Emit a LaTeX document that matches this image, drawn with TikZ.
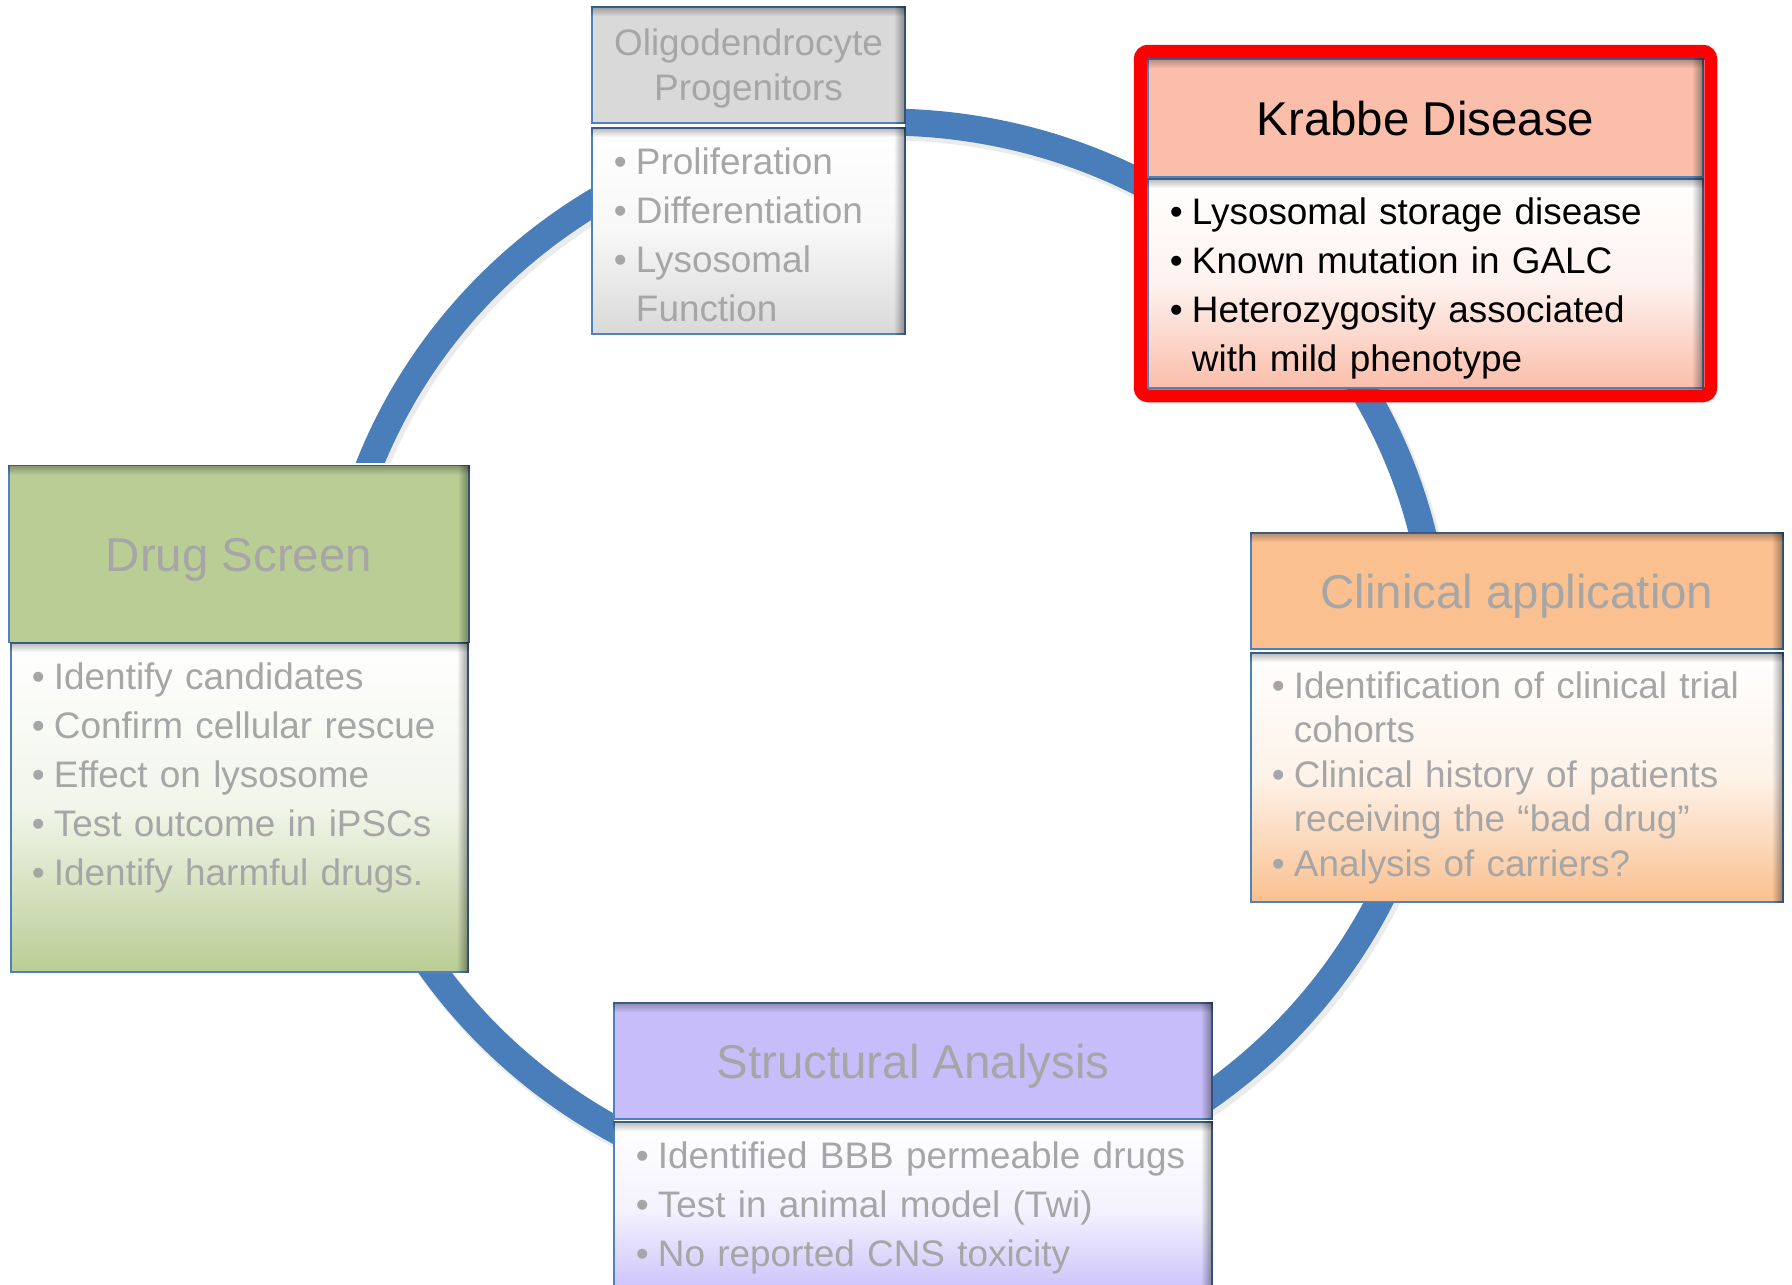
\documentclass[tikz,border=0pt]{standalone}
\usepackage{fontspec}
\setmainfont{Liberation Sans}
\usetikzlibrary{calc,fadings}

\definecolor{ringblue}{HTML}{4A7EBB}
\definecolor{edgeblue}{HTML}{4F81BD}
\definecolor{fadetext}{HTML}{A6A6A6}
\definecolor{oligofill}{HTML}{D9D9D9}
\definecolor{krabbefill}{HTML}{FBBEAB}
\definecolor{drugfill}{HTML}{BACD95}
\definecolor{clinfill}{HTML}{FAC090}
\definecolor{structfill}{HTML}{C7BDFA}

\tikzfading[name=shadeR, left color=transparent!100, right color=transparent!0]
\tikzfading[name=shadeT, top color=transparent!0, bottom color=transparent!100]

% bullet line with hanging indent
\newcommand{\bitem}[1]{\hangindent=2.2mm\hangafter=1\noindent\makebox[2.2mm][l]{\textbullet}#1\par}
% dark bands inside the right and top edges of a box
\newcommand{\innershade}[1]{%
  \fill[black, fill opacity=0.4, path fading=shadeR] ($(#1.north east)+(-1.2,0)$) rectangle (#1.south east);
  \fill[black, fill opacity=0.3, path fading=shadeT] (#1.north west) rectangle ($(#1.north east)+(0,1)$);}

\tikzset{
  ring/.style={draw=ringblue, line width=2.7mm},
  headbox/.style={draw=edgeblue, line width=0.15mm, inner sep=0pt, text=fadetext,
    font=\fontsize{13.5}{16}\selectfont},
  capsmid/.style={text height=3.4mm, text depth=0pt},
  bodybox/.style={draw=edgeblue, line width=0.15mm, inner sep=0pt,
    top color=white, bottom color=#1, middle color=white!80!#1},
  bodytext/.style={inner sep=0pt, text width=58mm, text=fadetext,
    font=\fontsize{10.5}{13.94}\selectfont, anchor=base west},
}

\begin{document}
\begin{tikzpicture}[x=1mm, y=-1mm]
        \useasboundingbox (0,0) rectangle (179.2,128.4);
        \clip (0,0) rectangle (179.2,128.4);

        % cycle ring
        \draw[line width=2.9mm, black, opacity=0.08] (88.8,66.4) ellipse [x radius=55.3mm, y radius=53.8mm];
        \draw[ring] (88.5,66) ellipse [x radius=55.3mm, y radius=53.8mm];

        % white backing under each title/body pair
        \fill[white] (59.2,0.7) rectangle (90.5,33.4);
        \fill[white] (0.9,46.3) rectangle (46.9,97.2);
        \fill[white] (125.1,53.3) rectangle (178.3,90.2);
        \fill[white] (61.4,100.3) rectangle (121.2,130);

        % Oligodendrocyte progenitors
        \node[headbox, fill=oligofill, minimum width=31.3mm, minimum height=11.6mm, align=center,
          text depth=0pt, font=\fontsize{10.5}{12.8}\selectfont] (oligoT) at (74.85,6.5) {Oligodendrocyte\\Progenitors};
        \node[bodybox=oligofill, minimum width=31.3mm, minimum height=20.6mm] (oligoB) at (74.85,23.1) {};

        % Krabbe disease
        \node[headbox, capsmid, fill=krabbefill, text=black, minimum width=55.5mm, minimum height=11.8mm] (krabbeT) at (142.55,11.8) {Krabbe Disease};
        \node[bodybox=krabbefill, minimum width=55.5mm, minimum height=20.9mm] (krabbeB) at (142.55,28.35) {};

        % Drug screen
        \node[headbox, capsmid, fill=drugfill, minimum width=46mm, minimum height=17.7mm] (drugT) at (23.9,55.4) {Drug Screen};
        \node[bodybox=drugfill, minimum width=45.7mm, minimum height=32.9mm] (drugB) at (23.95,80.75) {};

        % Clinical application
        \node[headbox, capsmid, fill=clinfill, minimum width=53.2mm, minimum height=11.6mm] (clinT) at (151.7,59.1) {Clinical application};
        \node[bodybox=clinfill, minimum width=53.2mm, minimum height=24.9mm] (clinB) at (151.7,77.75) {};

        % Structural analysis
        \node[headbox, capsmid, fill=structfill, minimum width=59.8mm, minimum height=11.6mm] (structT) at (91.3,106.1) {Structural Analysis};
        \node[bodybox=structfill, minimum width=59.8mm, minimum height=17.8mm] (structB) at (91.3,121.1) {};

        \foreach \b in {oligoT,oligoB,krabbeT,krabbeB,drugT,drugB,clinT,clinB,structT,structB}
          {\innershade{\b}}

        % red frame round Krabbe
        \draw[red, line width=1.3mm, rounded corners=0.8mm]
          ($(krabbeT.north west)+(-0.7,-0.7)$) rectangle ($(krabbeB.south east)+(0.7,0.7)$);

        % bullet lists
        \node[bodytext] (oligoL) at ($(oligoB.north west)+(2.2,4.7)$)
          {\bitem{Proliferation}\bitem{Differentiation}\bitem{Lysosomal\newline Function}};
        \node[bodytext, text=black] (krabbeL) at ($(krabbeB.north west)+(2.2,4.6)$)
          {\bitem{Lysosomal storage disease}\bitem{Known mutation in GALC}\bitem{Heterozygosity associated\newline with mild phenotype}};
        \node[bodytext] (drugL) at ($(drugB.north west)+(2.1,4.7)$)
          {\bitem{Identify candidates}\bitem{Confirm cellular rescue}\bitem{Effect on lysosome}\bitem{Test outcome in iPSCs}\bitem{Identify harmful drugs.}};
        \node[bodytext, font=\fontsize{10.5}{12.66}\selectfont] (clinL) at ($(clinB.north west)+(2.1,4.6)$)
          {\bitem{Identification of clinical trial\newline cohorts}\bitem{Clinical history of patients\newline receiving the “bad drug”}\bitem{Analysis of carriers?}};
        \node[bodytext] (structL) at ($(structB.north west)+(2.2,4.7)$)
          {\bitem{Identified BBB permeable drugs}\bitem{Test in animal model (Twi)}\bitem{No reported CNS toxicity}};

    \end{tikzpicture}
\end{document}
